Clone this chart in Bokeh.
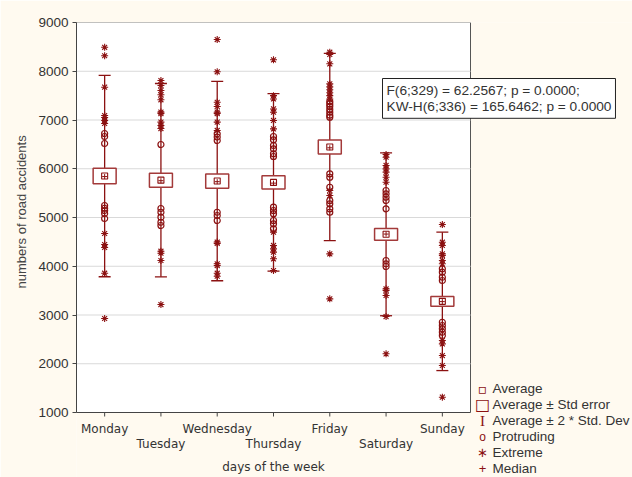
import math
from bokeh.plotting import figure
from bokeh.models import Range1d, FixedTicker, Label, Title, ColumnDataSource
from bokeh.core.properties import value
from bokeh.embed import file_html
from bokeh.resources import INLINE

# ---------------- data ----------------
days = ["Monday", "Tuesday", "Wednesday", "Thursday", "Friday", "Saturday", "Sunday"]
means = [5850, 5766, 5748, 5720, 6445, 4655, 3280]
std_err = [160, 143, 146, 136, 144, 120, 102]
two_sd = [2065, 1983, 2045, 1820, 1920, 1670, 1420]
medians = [5840, 5755, 5735, 5705, 6430, 4660, 3275]
y_ticks = [1000, 2000, 3000, 4000, 5000, 6000, 7000, 8000, 9000]

mon_protruding = [6723, 6662, 6518, 5246, 5190, 5144, 5082, 4979]
tue_protruding = [6497, 5185, 5108, 5006, 4903, 4836]
wed_protruding = [6718, 6650, 6580, 5108, 5041, 4938]
thu_protruding = [6662, 6594, 6477, 6408, 6306, 6251, 5212, 5144, 5076, 4938, 4870, 4767]
fri_protruding = [7380, 7330, 7280, 7220, 7160, 7100, 7057, 5895, 5826, 5621, 5349, 5280, 5178, 5108]
sat_protruding = [5554, 5486, 5417, 5349, 5178, 4118, 4050, 3995]
sun_protruding = [3947, 3878, 3775, 3708, 2851, 2785, 2716, 2647, 2579]

mon_extreme = [8492, 8318, 7673, 7092, 7051, 6990, 6928, 4672, 4446, 4385, 3857, 2928]
tue_extreme = [7810, 7708, 7605, 7518, 7415, 7162, 7133, 6956, 6887, 6825, 4308, 4267, 4118, 3215]
wed_extreme = [8651, 7989, 7364, 7277, 7160, 7133, 6956, 6785, 4497, 4470, 4050, 4015, 3857, 3796]
thu_extreme = [8235, 7500, 7432, 7227, 7160, 6990, 6818, 4700, 4426, 4357, 4290, 4153, 3913]
fri_extreme = [8390, 8344, 8153, 7741, 7680, 7620, 7560, 7500, 7430, 5554, 5451, 4254, 3331]
sat_extreme = [6292, 6237, 6067, 5998, 5930, 5826, 5724, 3536, 3503, 3400, 2969, 2204]
sun_extreme = [4856, 4493, 4426, 4254, 4220, 4118, 4050, 2477, 2408, 2169, 1964, 1314]

x_title = "days of the week"
y_title = "numbers of road accidents"
legend_labels = ["Average", "Average \u00b1 Std error", "Average \u00b1 2 * Std. Dev",
                 "Protruding", "Extreme", "Median"]
stats_text = "F(6;329) = 62.2567; p = 0.0000;\nKW-H(6;336) = 165.6462; p = 0.0000"

# ---------------- styling / geometry ----------------
RED = "#8B1111"
BOX_RED = "#A33A3A"
TXT = "#333333"
AXIS = "#444444"
CREAM = "#FFFAF0"

W, H = 632, 477
PLOT_L, PLOT_R, PLOT_T, PLOT_B = 76, 470, 22, 412   # white plot area in pixels

pos = list(range(1, len(days) + 1))
x_lo, x_hi = pos[0] - 0.5, pos[-1] + 0.5
y_lo, y_hi = y_ticks[0], y_ticks[-1]
x_per_px = (x_hi - x_lo) / (PLOT_R - PLOT_L)
y_per_px = (y_hi - y_lo) / (PLOT_B - PLOT_T)

protruding = [mon_protruding, tue_protruding, wed_protruding, thu_protruding,
              fri_protruding, sat_protruding, sun_protruding]
extreme = [mon_extreme, tue_extreme, wed_extreme, thu_extreme,
           fri_extreme, sat_extreme, sun_extreme]

src = ColumnDataSource(dict(
    x=pos,
    mean=means,
    median=medians,
    lo=[m - s for m, s in zip(means, two_sd)],
    hi=[m + s for m, s in zip(means, two_sd)],
    se_h=[2 * s for s in std_err],
))

# the frame covers everything right of the y axis; the white plot area is drawn inside it
p = figure(width=W, height=H,
           x_range=Range1d(x_lo, x_lo + (W - PLOT_L) * x_per_px),
           y_range=Range1d(y_lo - (H - PLOT_B) * y_per_px, y_hi),
           output_backend="svg", toolbar_location=None, x_axis_location=None,
           min_border_left=PLOT_L, min_border_right=0, min_border_top=PLOT_T, min_border_bottom=0)
p.background_fill_color = CREAM
p.border_fill_color = CREAM
p.outline_line_color = None
p.xgrid.visible = False
p.ygrid.visible = False

# y axis (real axis, bounded to the plot area)
ya = p.yaxis[0]
ya.bounds = (y_lo, y_hi)
ya.ticker = FixedTicker(ticks=y_ticks)
ya.minor_tick_line_color = None
ya.major_tick_out = 4
ya.major_tick_in = 0
ya.major_label_standoff = 4
ya.axis_line_color = AXIS
ya.major_tick_line_color = AXIS
ya.major_label_text_font = "Liberation Sans"
ya.major_label_text_font_size = "13.5px"
ya.major_label_text_color = TXT

# y axis title, centred on the plot area (starts at its bottom + offset)
p.add_layout(Title(text=y_title, align="left", offset=(H - PLOT_B) + 124, standoff=13,
                   text_font="Liberation Sans", text_font_size="13px",
                   text_font_style="normal", text_color=AXIS), "left")

# white plot area with its outline
p.quad(left=[x_lo], right=[x_hi], bottom=[y_lo], top=[y_hi], fill_color="white",
       line_color="#555555", line_width=1, level="image")
# horizontal grid lines
p.segment(x0=[x_lo] * len(y_ticks), x1=[x_hi] * len(y_ticks), y0=y_ticks, y1=y_ticks,
          line_color="#d9d9d9", line_width=1, level="underlay")

# x axis: line, ticks, staggered labels and title
p.segment(x0=[x_lo], x1=[x_hi], y0=[y_lo], y1=[y_lo], line_color=AXIS, line_width=1)
p.ray(x=pos, y=[y_lo] * len(pos), length=4, length_units="screen",
      angle=-math.pi / 2, line_color=AXIS, line_width=1)
p.text(x=pos[0::2], y=[y_lo] * len(pos[0::2]), text=days[0::2], y_offset=16,
       text_align="center", text_baseline="middle", text_font=value("DejaVu Sans"),
       text_font_size="12px", text_color=TXT)
p.text(x=pos[1::2], y=[y_lo] * len(pos[1::2]), text=days[1::2], y_offset=31,
       text_align="center", text_baseline="middle", text_font=value("DejaVu Sans"),
       text_font_size="12px", text_color=TXT)
p.text(x=[(x_lo + x_hi) / 2], y=[y_lo], text=[x_title], y_offset=54,
       text_align="center", text_baseline="middle", text_font=value("DejaVu Sans"),
       text_font_size="12px", text_color=TXT)

# whiskers (mean +/- 2 SD)
p.segment(x0="x", y0="lo", x1="x", y1="hi", source=src, line_color=RED, line_width=1.3)
p.scatter(x="x", y="hi", source=src, marker="dash", size=12, line_color=RED, line_width=1.3)
p.scatter(x="x", y="lo", source=src, marker="dash", size=12, line_color=RED, line_width=1.3)

# outliers
px, py, ex, ey = [], [], [], []
for xpos, vals in zip(pos, protruding):
    px += [xpos] * len(vals)
    py += vals
for xpos, vals in zip(pos, extreme):
    ex += [xpos] * len(vals)
    ey += vals
p.scatter(x=px, y=py, marker="circle", size=6, fill_color="white", fill_alpha=0.0,
          line_color=RED, line_width=1.2)
p.scatter(x=ex, y=ey, marker="asterisk", size=7, line_color=RED, line_width=1.1)

# std error boxes
p.rect(x="x", y="mean", width=23, width_units="screen", height="se_h", source=src,
       fill_color="white", line_color=BOX_RED, line_width=1.5)
# averages and medians
p.scatter(x="x", y="mean", source=src, marker="square", size=6, fill_color="white",
          line_color=RED, line_width=1.1)
p.scatter(x="x", y="median", source=src, marker="cross", size=5, line_color=RED, line_width=1)

# statistics box (screen units from the frame's bottom-left corner)
p.add_layout(Label(x=382 - PLOT_L, y=H - 78, x_units="screen", y_units="screen", text=stats_text,
                   text_font="Liberation Sans", text_font_size="13.7px", text_color=TXT,
                   text_align="left", text_baseline="top", text_line_height=1.12,
                   background_fill_color="white", border_line_color="#222222",
                   border_line_width=1, padding=4))

# legend, bottom right
icons = ["\u25ab", "\u25a1", "I", "o", "\u2217", "+"]
icon_fonts = ["DejaVu Sans", "DejaVu Sans", "Liberation Serif", "Liberation Sans", "DejaVu Sans", "Liberation Sans"]
icon_sizes = ["14px", "16px", "15px", "12px", "13px", "13px"]
for i, (lab, ic, f, s) in enumerate(zip(legend_labels, icons, icon_fonts, icon_sizes)):
    row_y = H - (388 + 16 * i)
    p.add_layout(Label(x=482 - PLOT_L, y=row_y, x_units="screen", y_units="screen", text=ic,
                       text_font=f, text_font_size=s, text_color=RED,
                       text_align="center", text_baseline="middle"))
    p.add_layout(Label(x=492 - PLOT_L, y=row_y, x_units="screen", y_units="screen", text=lab,
                       text_font="Liberation Sans", text_font_size="13.5px", text_color=TXT,
                       text_align="left", text_baseline="middle"))

open("out.html", "w").write(file_html(p, INLINE))
